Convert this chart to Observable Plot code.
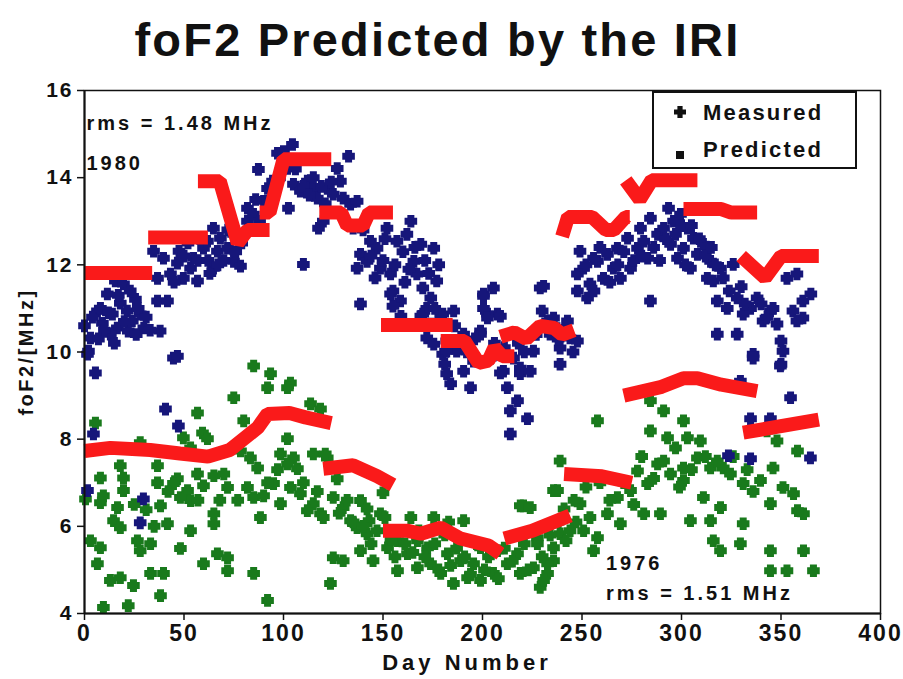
<!DOCTYPE html>
<html>
<head>
<meta charset="utf-8">
<script src="https://cdn.jsdelivr.net/npm/d3@7"></script>
<script src="https://cdn.jsdelivr.net/npm/@observablehq/plot@0.6"></script>
<style>
  html, body { margin: 0; background: #fff; }
  #wrap { position: relative; width: 903px; height: 679px; font-family: "Liberation Sans", Arial, sans-serif; font-weight: bold; color: #111; }
  #title { position: absolute; left: 0; top: 12px; width: 875px; text-align: center; font-size: 47px; letter-spacing: 2.2px; line-height: 56px; }
  #chart { position: absolute; left: 0; top: 60px; }
  #chart svg { overflow: visible; }
  #xlab { position: absolute; left: 367px; top: 650px; width: 200px; text-align: center; font-size: 22px; letter-spacing: 4px; line-height: 26px; }
  #ylab { position: absolute; left: -74px; top: 339px; width: 200px; text-align: center; font-size: 20px; letter-spacing: 2.5px; line-height: 26px; transform: rotate(-90deg); }
  #legend { position: absolute; left: 652px; top: 91px; width: 201px; height: 74px; border: 2px solid #111; background: #fff; }
  .lg { position: absolute; left: 49px; font-size: 22px; letter-spacing: 2.2px; line-height: 24px; }
  .lg-sym { position: absolute; left: 18px; }
</style>
</head>
<body>
<div id="wrap">
  <div id="title">foF2 Predicted by the IRI</div>
  <div id="chart"></div>
  <div id="xlab">Day Number</div>
  <div id="ylab">foF2/[MHz]</div>
  <div id="legend">
    <svg class="lg-sym" style="top:11px" width="16" height="16" viewBox="-8 -8 16 16"><path d="M-2.6,-6h5.2v3.4h3.4v5.2h-3.4v3.4h-5.2v-3.4h-3.4v-5.2h3.4z" fill="#111"/></svg>
    <div class="lg" style="top:8px">Measured</div>
    <svg class="lg-sym" style="top:54px" width="16" height="16" viewBox="-8 -8 16 16"><rect x="-4" y="-4" width="8" height="8" fill="#111"/></svg>
    <div class="lg" style="top:45px">Predicted</div>
  </div>
</div>
<script>
// Axis ticks
const xTicks = [0, 50, 100, 150, 200, 250, 300, 350, 400];
const yTicks = [4, 6, 8, 10, 12, 14, 16];

// Measured foF2, 1980 (high solar activity): day number and MHz
const day1980 = [
  0, 2, 5.5, 6.5, 9, 11.5, 14, 16.5, 15.5, 19.6, 18, 21.5, 24, 25.6, 28, 29.8, 22, 3, 13, 38,
  36.7, 41.7, 44.7, 34.7, 36.7, 39.7, 43.2, 46.7, 47.5, 49.7, 53.3, 54.8, 56.8, 59.8, 61.8, 64.8, 66.8, 68.3, 64.8, 71.9,
  74.9, 76.9, 78.4, 74.9, 81.9, 81.9, 84.9, 87.4, 90, 92, 94.5, 97, 100, 102, 104.5, 102.5, 105, 108.5, 110, 112,
  114.6, 117, 117.6, 120, 122, 125, 127, 132.7, 128.6, 130, 133.7, 137, 135, 138.7, 137, 138.7, 142, 143.7, 147, 148.7,
  152, 153.8, 155, 157, 158.8, 164, 165.5, 167, 162, 169, 170, 174, 175.5, 177, 174, 170, 180, 182, 181, 182,
  180, 185.5, 187, 190.5, 200.5, 205.5, 207.5, 202.5, 199, 204, 210.5, 219, 215.6, 229, 230, 232.7, 234, 242.7, 244, 239,
  245.5, 247.7, 239, 249, 247.7, 250.8, 247.7, 254, 257.8, 260.8, 252.8, 262.8, 265.8, 269.3, 267.8, 272.9, 274.4, 277.9, 279.4, 281,
  284.4, 283, 284.4, 288, 291, 293.5, 296, 294.5, 298, 301, 299.5, 303, 304.5, 306, 308, 311, 313, 314.6, 316, 319.6,
  318, 323, 326, 328, 331, 334.7, 338, 341, 344.7, 348, 318, 328, 336, 350, 351, 353, 358, 361, 365, 361,
  356, 350, 358, 155, 159, 172, 169, 179, 172, 175.5, 182, 184, 194, 190.5, 200.5, 202.5, 209, 199, 195.5, 209,
  212.5, 219, 224, 217.6, 214, 222.6, 214, 225.6, 153.8, 230.7, 200.5, 235.7, 255.8, 1.5, 40.7, 47.2, 46.7, 4.5, 12, 1.5,
  29.6, 28, 336, 349.7, 329.6, 354.8, 334.7, 344.7, 323.6, 334.7, 364.8,
  4, 8, 10, 12, 17, 20, 23, 26, 27, 31, 7, 15, 33,
  45, 50, 52, 57, 58, 62, 63, 67, 70, 72, 76, 79,
  86, 88, 95, 98, 106, 110, 113, 115, 119, 121, 124, 126,
  140, 144, 146, 150, 151, 156, 160, 161, 163, 166, 171, 173, 176, 178,
  252, 256, 259, 264, 268, 271, 276, 280, 286, 289, 292, 297, 300, 302, 305, 309, 312, 315, 317, 321, 324, 330, 332, 340, 343, 346,
  186, 192, 196, 206, 211, 213, 218, 221, 227, 236, 238, 241
];
const fo1980 = [
  10.6, 10.02, 9.52, 10.94, 10.66, 11.33, 10.87, 10.55, 11.63, 11.56, 11.12, 10.94, 10.71, 11.21, 10.87, 10.55, 10.48, 10.32, 10.41, 10.48,
  11.17, 11.17, 9.86, 12.31, 11.69, 12.15, 11.79, 12.04, 12.31, 11.69, 11.92, 12.15, 11.63, 12.38, 12.54, 11.92, 12.31, 12.61, 12.84, 12.38,
  12.08, 12.61, 11.97, 12.7, 13.0, 13.3, 13.16, 14.19, 13.46, 13.75, 13.92, 14.56, 14.6, 14.21, 14.76, 13.3, 13.85, 13.69, 12.01, 13.92,
  13.75, 13.53, 12.84, 13.0, 13.75, 13.62, 14.21, 14.49, 13.92, 13.53, 13.39, 13.46, 12.84, 12.24, 11.92, 11.1, 12.08, 12.54, 12.38, 11.92,
  12.84, 11.79, 11.4, 12.54, 11.17, 13.0, 12.08, 11.79, 12.7, 12.47, 11.47, 11.24, 12.38, 11.63, 10.64, 10.87, 10.87, 10.25, 9.72, 9.5,
  9.95, 10.94, 10.02, 10.41, 11.33, 11.47, 10.87, 10.87, 10.48, 9.86, 9.56, 9.5, 9.86, 11.47, 10.94, 10.71, 10.41, 10.71, 10.32, 10.09,
  10.0, 10.25, 9.72, 12.31, 11.79, 11.92, 11.4, 11.56, 12.08, 11.69, 11.24, 12.24, 11.92, 11.69, 12.38, 12.61, 11.92, 12.38, 12.84, 12.54,
  13.07, 12.15, 11.17, 12.7, 12.84, 13.3, 13.0, 12.47, 12.15, 12.38, 13.16, 12.84, 11.92, 12.61, 12.24, 12.47, 11.69, 12.08, 11.63, 11.92,
  11.17, 11.0, 12.01, 11.24, 10.87, 11.0, 11.24, 10.71, 10.94, 10.64, 10.41, 10.41, 9.95, 10.25, 10.02, 11.69, 11.79, 11.17, 11.33, 10.78,
  10.94, 9.72, 10.71, 11.05, 10.82, 11.0, 10.82, 10.82, 10.32, 10.18, 10.02, 9.27, 9.18, 9.56, 11.0, 10.78, 10.82, 10.41, 9.79, 9.52,
  9.18, 9.63, 9.56, 8.88, 8.65, 8.47, 8.12, 10.02, 11.33, 11.51, 11.28, 10.78, 12.15, 9.95, 8.69, 8.3, 9.9, 8.12, 7.78, 6.82,
  6.63, 6.08, 9.86, 9.68, 9.33, 8.95, 8.47, 8.47, 7.62, 7.55, 7.57,
  10.8, 11.0, 10.5, 10.9, 11.3, 10.7, 11.4, 10.4, 11.0, 10.8, 10.3, 10.2, 10.5,
  11.6, 12.2, 12.5, 12.1, 12.6, 12.1, 11.8, 12.0, 12.1, 12.8, 12.3, 12.5,
  13.5, 13.0, 13.6, 14.0, 14.2, 13.8, 13.6, 14.0, 13.8, 13.4, 13.9, 13.2,
  12.8, 12.2, 11.7, 12.1, 12.6, 12.0, 12.3, 11.6, 11.9, 12.4, 12.1, 11.8, 11.0, 12.0,
  12.0, 11.4, 12.4, 11.6, 12.0, 12.3, 12.1, 12.2, 12.4, 12.1, 12.6, 12.7, 12.9, 12.0, 12.9, 12.6, 12.2, 12.4, 12.0, 11.7, 11.4, 11.5, 11.1, 11.1, 10.8, 11.0,
  10.6, 10.0, 10.3, 10.2, 10.1, 9.9, 10.2, 10.0, 10.4, 10.6, 10.3, 10.5
];

// Measured foF2, 1976 (low solar activity): day number and MHz
const day1976 = [
  85, 93.5, 92, 103.5, 102, 75, 56.8, 80, 5.5, 113.6, 118.6, 102, 59.3, 61.8, 49.7, 28, 53.3, 78.4, 83.4, 98.5,
  105, 115, 122, 87, 102, 107, 18, 36.7, 8, 19.6, 36.7, 46.7, 56.8, 65, 70, 71.9, 59.8, 44.7, 51.8, 19.6,
  9.5, 81.9, 85, 90, 95, 103.5, 108.5, 115, 112, 118.6, 98.5, 88.4, 65, 65, 53.3, 48.2, 38.2, 41.7, 53.3, 31,
  16.6, 14.6, 18, 8, 3, 8, 26.6, 33.2, 28, 48.2, 66.8, 71.9, 6.5, 59.8, 71.9, 85, 13, 18, 24.6, 33.2,
  39.7, 38.2, 9.5, 22, 92, 0.5, 121, 127, 150, 125, 120, 130, 138.7, 142, 148.7, 133.7, 137, 143, 142, 125,
  130, 138.7, 145, 123.6, 164, 175.5, 190.5, 183, 157.3, 167.3, 152.3, 162.3, 172.4, 157.3, 167.3, 173.9, 182.4, 189, 179, 185.4,
  192.5, 199, 205.5, 195.5, 212.5, 217.6, 219, 225.6, 229, 232.7, 227.6, 235.7, 239, 242, 235.7, 220.6, 235.7, 239, 199, 207.5,
  257.8, 219, 237.7, 249, 254, 250.8, 257.8, 255.8, 262.8, 267.8, 269.3, 274.4, 277.9, 283, 288, 294.5, 301, 308, 314.6, 301,
  284.4, 291, 301, 284.4, 293, 303, 309.5, 321, 324.6, 331, 339.7, 346, 351, 356.3, 361.3, 358.3, 331, 329.6, 344.7, 311,
  319.6, 304.5, 314.6, 316, 319.6, 281, 289.4, 344.7, 361.3, 344.7, 353, 366.3, 358.3, 343, 348, 224, 227.6, 230.7, 232.7, 247,
  128, 132, 135, 140, 144, 147, 151, 154, 156, 159, 161, 165, 168, 171, 176, 178, 181, 184, 187, 191,
  194, 197, 201, 203, 208, 211, 215, 221, 223, 230, 234, 238, 241, 244, 246,
  252, 259, 264, 271, 276, 280, 286, 291, 297, 299, 305, 312, 318, 326, 333, 336,
  25, 35, 42, 57, 68, 77, 92, 97, 110, 117
];
const fo1976 = [
  9.68, 9.5, 9.18, 9.29, 9.18, 8.95, 8.6, 8.42, 8.37, 8.81, 8.69, 8.01, 8.14, 8.01, 8.03, 7.92, 7.8, 7.73, 7.57, 7.66,
  7.57, 7.66, 7.57, 7.34, 7.43, 7.32, 7.39, 7.39, 7.11, 7.11, 7.0, 7.09, 7.2, 7.16, 7.2, 6.89, 6.93, 6.98, 6.82, 6.82,
  6.7, 6.89, 6.66, 6.7, 6.98, 6.89, 6.75, 6.52, 6.36, 6.29, 6.52, 6.2, 6.29, 6.06, 6.59, 6.66, 6.47, 6.06, 5.9, 6.38,
  6.43, 6.13, 5.97, 6.54, 5.67, 5.51, 5.67, 5.6, 5.44, 5.49, 5.37, 5.28, 5.14, 5.14, 4.98, 4.92, 4.76, 4.82, 4.64, 4.92,
  4.92, 4.41, 4.14, 4.18, 4.3, 6.63, 7.66, 7.09, 6.77, 6.66, 6.2, 6.43, 6.59, 6.4, 6.29, 6.13, 5.97, 6.13, 5.83, 5.28,
  5.21, 5.44, 5.21, 4.69, 6.2, 6.2, 6.13, 6.1, 5.67, 5.67, 5.51, 5.37, 5.51, 4.98, 5.05, 5.14, 5.37, 5.21, 4.92, 4.69,
  4.82, 4.76, 4.92, 5.14, 5.14, 5.37, 4.92, 5.05, 4.6, 4.92, 5.74, 5.51, 5.83, 5.67, 5.21, 6.47, 6.82, 7.5, 5.51, 5.44,
  8.42, 6.47, 6.82, 6.52, 6.2, 5.9, 5.74, 5.44, 6.29, 6.66, 6.06, 6.82, 7.27, 6.98, 7.43, 7.2, 7.34, 7.57, 7.34, 7.05,
  8.88, 8.65, 8.42, 8.19, 8.03, 8.03, 7.96, 7.34, 7.2, 6.98, 7.05, 7.34, 6.89, 6.75, 6.29, 7.73, 6.06, 5.6, 6.52, 6.66,
  6.43, 6.13, 6.13, 5.67, 5.44, 6.29, 6.29, 5.44, 5.44, 4.98, 4.98, 4.98, 6.36, 8.19, 7.96, 6.43, 5.6, 4.76, 5.14, 6.1,
  6.3, 6.6, 6.1, 6.0, 5.6, 5.9, 6.2, 5.7, 5.3, 5.9, 5.6, 5.4, 5.9, 5.3, 5.6, 5.0, 5.8, 5.1, 5.5, 5.3,
  4.9, 5.6, 5.0, 5.3, 4.8, 5.5, 5.2, 5.6, 5.0, 5.3, 5.8, 6.1, 6.4, 5.9, 6.6,
  6.9, 7.0, 6.6, 7.0, 6.5, 7.6, 7.1, 7.5, 7.8, 6.9, 7.3, 7.6, 7.5, 7.6, 7.3, 6.8,
  6.5, 6.0, 6.8, 6.6, 6.6, 6.6, 7.0, 7.3, 7.0, 6.8
];

// IRI predictions: each monthly run is its own segment
const pred1980Seg = [1,1, 2,2, 3,3,3,3,3, 4,4,4,4, 5,5,5,5,5,5, 6,6, 7,7,7,7,7,7,7, 8,8,8,8,8,8,8, 9,9,9,9,9,9,9, 10,10,10,10, 11,11,11,11, 12,12,12,12];
const pred1980Day = [0,34, 32,62, 57,68,77,82,93, 88,93,100,124, 118,129,132,140,143,155, 149,185, 179,191,198,203,206,210,216, 209,216,222,229,236,240,246, 240,243,255,262,266,272,274, 272,279,285,308, 301,320,325,338, 330,342,350,369];
const pred1980Val = [11.81,11.81, 12.63,12.63, 13.92,13.92,12.5,12.8,12.8, 13.2,13.2,14.42,14.42, 13.2,13.2,12.9,12.9,13.2,13.2, 10.62,10.62, 10.25,10.25,9.75,9.8,10.1,9.9,9.9, 10.35,10.45,10.3,10.6,10.55,10.4,10.5, 12.65,13.1,13.1,12.8,12.8,13.1,13.1, 13.94,13.5,13.94,13.94, 13.28,13.28,13.2,13.2, 12.2,11.7,12.2,12.2];

const pred1976Seg = [1,1,1,1,1,1,1,1,1,1,1, 2,2,2,2, 3,3,3,3,3,3,3, 4,4,4, 5,5,5, 6,6,6,6,6,6, 7,7];
const pred1976Day = [0,13,33,48,62,73,87,92,103,111,124, 120,135,147,155, 150,162,169,179,189,203,209, 211,225,244, 241,260,275, 271,290,301,308,320,338, 331,369];
const pred1976Val = [7.73,7.8,7.75,7.67,7.6,7.75,8.26,8.58,8.6,8.5,8.37, 7.32,7.4,7.15,6.95, 5.9,5.9,5.83,5.97,5.72,5.56,5.37, 5.72,5.9,6.25, 7.2,7.15,7.0, 9.0,9.2,9.4,9.4,9.25,9.1, 8.15,8.45];

// Text notes placed in data coordinates
const noteText = ["rms = 1.48 MHz", "1980", "1976", "rms = 1.51 MHz"];
const noteDay = [1, 1, 262, 262];
const noteVal = [15.24, 14.33, 5.15, 4.46];

const navy = "#16167a";
const green = "#197a1c";
const red = "#fa1a1a";

// Heavy filled cross used for the measured points
const fatCross = {
  draw(ctx) {
    const e = 6.3, a = 3.5;
    ctx.moveTo(-a, -e); ctx.lineTo(a, -e); ctx.lineTo(a, -a); ctx.lineTo(e, -a);
    ctx.lineTo(e, a); ctx.lineTo(a, a); ctx.lineTo(a, e); ctx.lineTo(-a, e);
    ctx.lineTo(-a, a); ctx.lineTo(-e, a); ctx.lineTo(-e, -a); ctx.lineTo(-a, -a);
    ctx.closePath();
  }
};

const meas1980 = day1980.map((d, i) => ({day: d, v: fo1980[i]}));
const meas1976 = day1976.map((d, i) => ({day: d, v: fo1976[i]}));
const pred1980 = pred1980Day.map((d, i) => ({day: d, v: pred1980Val[i], seg: pred1980Seg[i]}));
const pred1976 = pred1976Day.map((d, i) => ({day: d, v: pred1976Val[i], seg: pred1976Seg[i]}));
const notes = noteText.map((t, i) => ({text: t, day: noteDay[i], v: noteVal[i]}));

const chart = Plot.plot({
  width: 903,
  height: 619,
  marginTop: 30,
  marginRight: 23,
  marginBottom: 66,
  marginLeft: 84,
  style: {fontFamily: "'Liberation Sans', Arial, sans-serif", fontWeight: "bold", color: "#111", background: "transparent", overflow: "visible"},
  x: {domain: [0, 400], ticks: xTicks, label: null},
  y: {domain: [4, 16], ticks: yTicks, label: null},
  marks: [
    Plot.frame({stroke: "#111", strokeWidth: 1.5}),
    Plot.dot(meas1976, {x: "day", y: "v", symbol: fatCross, fill: green, stroke: "none"}),
    Plot.dot(meas1980, {x: "day", y: "v", symbol: fatCross, fill: navy, stroke: "none"}),
    Plot.line(pred1976, {x: "day", y: "v", z: "seg", stroke: red, strokeWidth: 14, strokeLinecap: "butt", strokeLinejoin: "miter", curve: "linear"}),
    Plot.line(pred1980, {x: "day", y: "v", z: "seg", stroke: red, strokeWidth: 14, strokeLinecap: "butt", strokeLinejoin: "miter", curve: "linear"}),
    Plot.text(notes, {x: "day", y: "v", text: "text", textAnchor: "start", fontSize: 20, fontWeight: "bold", fill: "#111"}),
    Plot.ruleX([0], {stroke: "#111", strokeWidth: 2}),
    Plot.ruleY([4], {stroke: "#111", strokeWidth: 2}),
    Plot.axisX({ticks: xTicks, tickSize: 7, tickPadding: 4, fontSize: 23, fontWeight: "bold", label: null, stroke: "#111", strokeWidth: 1.5}),
    Plot.axisY({ticks: yTicks, tickSize: 7, tickPadding: 4, fontSize: 21, fontWeight: "bold", label: null, stroke: "#111", strokeWidth: 1.5})
  ]
});
document.getElementById("chart").appendChild(chart);

// Wide letter spacing on the bold chart text
chart.querySelectorAll('g[aria-label="x-axis tick label"] text, g[aria-label="y-axis tick label"] text').forEach(t => t.style.letterSpacing = "2px");
chart.querySelectorAll('g[aria-label="text"] text').forEach(t => t.style.letterSpacing = "3px");
</script>
</body>
</html>
